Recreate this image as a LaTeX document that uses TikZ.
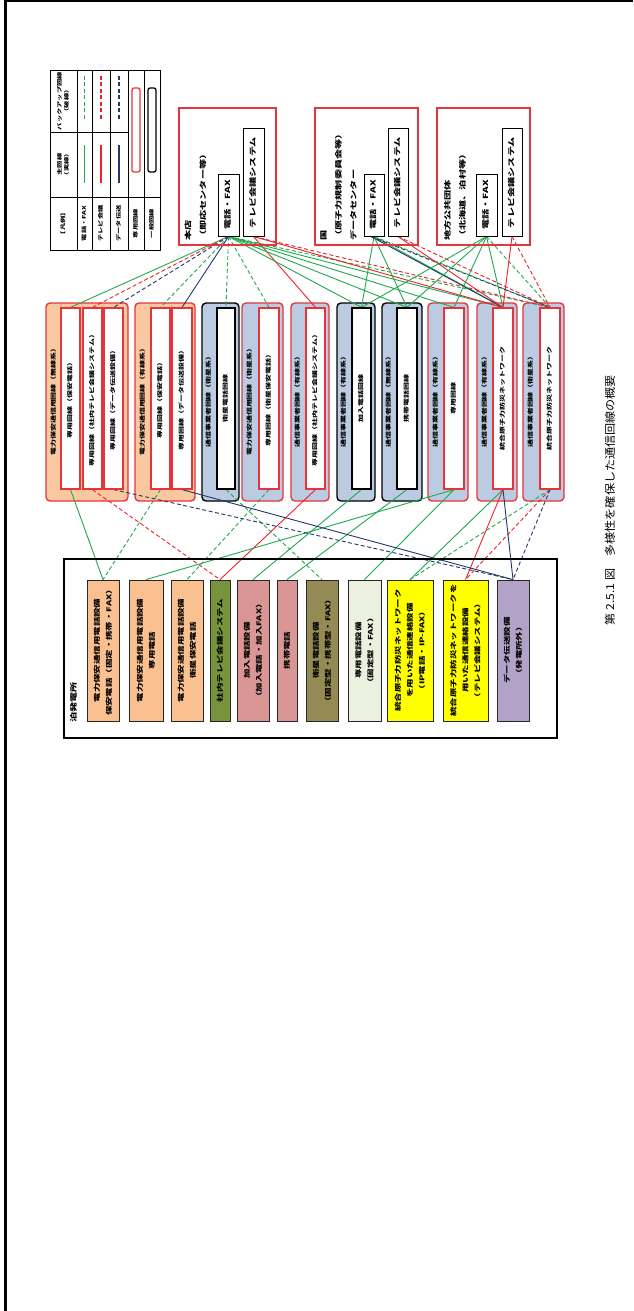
\documentclass[tikz,border=0pt]{standalone}
\usepackage{fontspec}
\setmainfont{Noto Sans CJK JP}
\pgfdeclarelayer{bgl}
\pgfdeclarelayer{grp}
\pgfdeclarelayer{lns}
\pgfsetlayers{bgl,grp,lns,main}
\definecolor{lgreen}{HTML}{1FA84F}
\definecolor{lred}{HTML}{F0202A}
\definecolor{lblue}{HTML}{22386A}
\definecolor{bred}{HTML}{E5353B}
\definecolor{forange}{HTML}{FAC8A0}
\definecolor{fblue}{HTML}{BACBE2}
\definecolor{iorange}{HTML}{FAC090}
\definecolor{igreen}{HTML}{77933C}
\definecolor{ipink}{HTML}{D99694}
\definecolor{iolive}{HTML}{948A54}
\definecolor{ilight}{HTML}{EBF1DE}
\definecolor{iyellow}{HTML}{FFFF00}
\definecolor{ipurple}{HTML}{B3A2C7}
\newcommand{\mysx}{1.45}
\newcommand{\rtx}[2][c]{\rotatebox{90}{\scalebox{\mysx}[1]{\begin{tabular}{@{}#1@{}}#2\end{tabular}}}}
\newcommand{\mybox}[7]{\node[#6, minimum width={(#4-#2)*1pt}, minimum height={(#5-#3)*1pt}] (#1) at ({(#2+#4)/2},{(#3+#5)/2}) {#7};}
\tikzset{
  fa/.style={font=\fontsize{5}{7}\selectfont\bfseries, inner sep=0pt},
  fb/.style={font=\fontsize{5.5}{6.6}\selectfont\bfseries, inner sep=0pt},
  fc/.style={font=\fontsize{6.5}{12}\selectfont\bfseries, inner sep=0pt},
  fd/.style={font=\fontsize{7}{8.4}\selectfont\bfseries, inner sep=0pt},
  fe/.style={font=\fontsize{7}{15}\selectfont\bfseries, inner sep=0pt},
  grpR/.style={draw=bred, line width=1.4pt, rounded corners=4pt, inner sep=0pt},
  grpK/.style={draw=black, line width=1.4pt, rounded corners=4pt, inner sep=0pt},
  inR/.style={fb, draw=bred, line width=1.2pt, fill=white},
  inK/.style={fb, draw=black, line width=1.2pt, fill=white},
  dst/.style={draw=bred, line width=1.2pt, inner sep=0pt},
  dstin/.style={fd, draw=black, line width=1pt, fill=white},
  item/.style={fc, draw=black!85, line width=0.8pt},
  cgs/.style={draw=lgreen, line width=0.9pt},
  cgd/.style={cgs, dash pattern=on 4pt off 2.5pt},
  crs/.style={draw=lred, line width=0.9pt},
  crd/.style={crs, dash pattern=on 4pt off 2.5pt},
  cbs/.style={draw=lblue, line width=0.9pt},
  cbd/.style={cbs, dash pattern=on 4pt off 2.5pt}
}
\begin{document}
\begin{tikzpicture}[x=1pt,y=-1pt]
\useasboundingbox (0,0) rectangle (633,1311);
\begin{pgfonlayer}{bgl}
\fill[white] (0,0) rectangle (633,1311);
\end{pgfonlayer}
% frame
\draw[line width=2pt] (5,1) -- (633,1);
\draw[line width=2.5pt] (5.5,0) -- (5.5,1311);

% legend
\draw[line width=0.8pt] (50,70) rectangle (160,250);
\foreach \x in {77,92,110,128,144} \draw[line width=0.8pt] (\x,70) -- (\x,250);
\draw[line width=0.8pt] (50,197) -- (160,197);
\draw[line width=0.8pt] (50,132) -- (128,132);
\node[fa] (lg0) at (63.5,223.5) {\rtx{【凡例】}};
\node[fa] (lg1) at (63.5,164.5) {\rtx{主回線\\（実線）}};
\node[fa] (lg2) at (63.5,101) {\rtx{バックアップ回線\\（破線）}};
\node[fa] (lg3) at (84.5,223.5) {\rtx{電話・FAX}};
\node[fa] (lg4) at (101,223.5) {\rtx{テレビ会議}};
\node[fa] (lg5) at (119,223.5) {\rtx{データ伝送}};
\node[fa] (lg6) at (136,223.5) {\rtx{専用回線}};
\node[fa] (lg7) at (152,223.5) {\rtx{一般回線}};
\draw[cgs, line width=1.3pt] (84.5,145) -- (84.5,183);
\draw[cgd, line width=1.3pt] (84.5,76) -- (84.5,120);
\draw[crs, line width=1.3pt] (101,145) -- (101,183);
\draw[crd, line width=1.3pt] (101,76) -- (101,120);
\draw[cbs, line width=1.3pt] (119,145) -- (119,183);
\draw[cbd, line width=1.3pt] (119,76) -- (119,120);
\draw[bred, line width=1.3pt, rounded corners=2pt] (132,88) rectangle (140,172);
\draw[black, line width=1.3pt, rounded corners=2pt] (148,88) rectangle (156,172);

% destinations
\mybox{hq}{179}{108}{276}{245}{dst}{}
\node[fe, anchor=south west] (hqt) at (180,241) {\rtx[l]{本店\\（即応センター等）}};
\mybox{hqtel}{218}{174}{239}{236}{dstin}{\rtx{電話・FAX}}
\mybox{hqtv}{243}{129}{264}{236}{dstin}{\rtx{テレビ会議システム}}

\mybox{kn}{315}{108}{418}{245}{dst}{}
\node[fe, anchor=south west] (knt) at (315.5,241) {\rtx[l]{国\\（原子力規制委員会等）\\データセンター}};
\mybox{kntel}{364}{174}{384}{236}{dstin}{\rtx{電話・FAX}}
\mybox{kntv}{388}{129}{408}{236}{dstin}{\rtx{テレビ会議システム}}

\mybox{ch}{437}{108}{530}{245}{dst}{}
\node[fe, anchor=south west] (cht) at (439.5,241) {\rtx[l]{地方公共団体\\（北海道、泊村等）}};
\mybox{chtel}{476}{174}{497}{236}{dstin}{\rtx{電話・FAX}}
\mybox{chtv}{502}{129}{522}{236}{dstin}{\rtx{テレビ会議システム}}

% middle groups
\begin{pgfonlayer}{grp}
\mybox{A}{46}{303}{128}{501}{grpR, fill=forange}{}
\mybox{B}{135}{303}{195}{501}{grpR, fill=forange}{}
\mybox{C}{202}{303}{239}{501}{grpK, fill=fblue}{}
\mybox{D}{242}{303}{283}{501}{grpR, fill=fblue}{}
\mybox{E}{291}{303}{329}{501}{grpR, fill=fblue}{}
\mybox{F}{337}{303}{375}{501}{grpK, fill=fblue}{}
\mybox{G}{382}{303}{422}{501}{grpK, fill=fblue}{}
\mybox{H}{428}{303}{468}{501}{grpR, fill=fblue}{}
\mybox{I}{477}{303}{517}{501}{grpR, fill=fblue}{}
\mybox{J}{523}{303}{564}{501}{grpR, fill=fblue}{}
\end{pgfonlayer}
\node[fb] (Al) at (54,400) {\rtx{電力保安通信用回線（無線系）}};
\node[fb] (Bl) at (143,400) {\rtx{電力保安通信用回線（有線系）}};
\node[fb] (Cl) at (209,400) {\rtx{通信事業者回線（衛星系）}};
\node[fb] (Dl) at (250,400) {\rtx{電力保安通信用回線（衛星系）}};
\node[fb] (El) at (298,400) {\rtx{通信事業者回線（有線系）}};
\node[fb] (Fl) at (344,400) {\rtx{通信事業者回線（有線系）}};
\node[fb] (Gl) at (389,400) {\rtx{通信事業者回線（無線系）}};
\node[fb] (Hl) at (436,400) {\rtx{通信事業者回線（有線系）}};
\node[fb] (Il) at (485,400) {\rtx{通信事業者回線（有線系）}};
\node[fb] (Jl) at (531,400) {\rtx{通信事業者回線（衛星系）}};

\mybox{A1}{61}{308}{80}{489}{inR}{\rtx{専用回線（保安電話）}}
\mybox{A2}{83}{308}{102}{489}{inR}{\rtx{専用回線（社内テレビ会議システム）}}
\mybox{A3}{104}{308}{123}{489}{inR}{\rtx{専用回線（データ伝送設備）}}
\mybox{B1}{151}{308}{170}{489}{inR}{\rtx{専用回線（保安電話）}}
\mybox{B2}{172}{308}{192}{489}{inR}{\rtx{専用回線（データ伝送設備）}}
\mybox{C1}{217}{308}{235}{489}{inK}{\rtx{衛星電話回線}}
\mybox{D1}{259}{308}{279}{489}{inR}{\rtx{専用回線（衛星保安電話）}}
\mybox{E1}{306}{308}{325}{489}{inR}{\rtx{専用回線（社内テレビ会議システム）}}
\mybox{F1}{352}{308}{371}{489}{inK}{\rtx{加入電話回線}}
\mybox{G1}{397}{308}{417}{489}{inK}{\rtx{携帯電話回線}}
\mybox{H1}{444}{308}{464}{489}{inR}{\rtx{専用回線}}
\mybox{I1}{493}{308}{513}{489}{inR}{\rtx{統合原子力防災ネットワーク}}
\mybox{J1}{540}{308}{560}{489}{inR}{\rtx{統合原子力防災ネットワーク}}

% plant
\draw[black, line width=2pt] (64,559) rectangle (557,738);
\node[fd, anchor=south west] (plbl) at (70,723) {\rtx[l]{泊発電所}};
\mybox{p1}{87}{580}{119}{721}{item, fill=iorange}{\rtx{電力保安通信用電話設備\\保安電話（固定・携帯・FAX）}}
\mybox{p2}{129}{580}{163}{721}{item, fill=iorange}{\rtx{電力保安通信用電話設備\\専用電話}}
\mybox{p3}{171}{580}{203}{721}{item, fill=iorange}{\rtx{電力保安通信用電話設備\\衛星保安電話}}
\mybox{p4}{210}{580}{230}{721}{item, fill=igreen}{\rtx{社内テレビ会議システム}}
\mybox{p5}{237}{580}{269}{721}{item, fill=ipink}{\rtx{加入電話設備\\（加入電話・加入FAX）}}
\mybox{p6}{277}{580}{297}{721}{item, fill=ipink}{\rtx{携帯電話}}
\mybox{p7}{306}{580}{338}{721}{item, fill=iolive}{\rtx{衛星電話設備\\（固定型・携帯型・FAX）}}
\mybox{p8}{348}{580}{381}{721}{item, fill=ilight}{\rtx{専用電話設備\\（固定型・FAX）}}
\mybox{p9}{387}{580}{433}{721}{item, fill=iyellow}{\rtx{統合原子力防災ネットワーク\\を用いた通信連絡設備\\（IP電話・IP-FAX）}}
\mybox{p10}{443}{580}{488}{721}{item, fill=iyellow}{\rtx{統合原子力防災ネットワークを\\用いた通信連絡設備\\（テレビ会議システム）}}
\mybox{p11}{497}{580}{529}{721}{item, fill=ipurple}{\rtx{データ伝送設備\\（発電所外）}}

% caption
\node[font=\fontsize{11}{13}\selectfont, inner sep=0pt] (cap) at (610,500) {\rotatebox{90}{\scalebox{1.1}[1]{第 2.5.1 図　多様性を確保した通信回線の概要}}};

% connectors
\begin{pgfonlayer}{lns}
\draw[cgs] (hqtel.south) -- (A1.north);
\draw[crd] (hqtel.south) -- (A2.north);
\draw[cbd] (hqtel.south) -- (A3.north);
\draw[cgd] (hqtel.south) -- (B1.north);
\draw[cbs] (hqtel.south) -- (B2.north);
\draw[cgd] (hqtel.south) -- (C1.north);
\draw[cgd] (hqtel.south) -- (D1.north);
\draw[crs] (hqtv.south) -- (E1.north);
\draw[cgs] (hqtel.south) -- (F1.north);
\draw[cgs] (hqtel.south) -- (G1.north);
\draw[cgs] (hqtel.south) -- (H1.north);
\draw[cgs] (hqtel.south) -- (I1.north);
\draw[cgd] (hqtel.south) -- (J1.north);
\draw[crs] (hqtv.south) -- (I1.north);
\draw[crd] (hqtv.south) -- (J1.north);
\draw[cgs] (kntel.south) -- (F1.north);
\draw[cgs] (kntel.south) -- (G1.north);
\draw[cgs] (kntel.south) -- (I1.north);
\draw[cgd] (kntel.south) -- (J1.north);
\draw[cbs] ([xshift=-3pt]kntel.south) -- (I1.north);
\draw[cbd] ([xshift=-3pt]kntel.south) -- (J1.north);
\draw[crs] (kntv.south) -- (I1.north);
\draw[crd] (kntv.south) -- (J1.north);
\draw[cgs] (chtel.south) -- (F1.north);
\draw[cgs] (chtel.south) -- (G1.north);
\draw[cgs] (chtel.south) -- (H1.north);
\draw[cgs] (chtel.south) -- (I1.north);
\draw[cgd] (chtel.south) -- (J1.north);
\draw[crs] (chtv.south) -- (I1.north);
\draw[crd] (chtv.south) -- (J1.north);
% bottom
\draw[cgs] (A1.south) -- (p1.north);
\draw[cgd] (B1.south) -- (p1.north);
\draw[crd] (A2.south) -- (p4.north);
\draw[crs] (E1.south) -- (p4.north);
\draw[cgs] (H1.south) -- (p2.north);
\draw[cgd] (D1.south) -- (p3.north);
\draw[cgs] (F1.south) -- (p5.north);
\draw[cgs] (G1.south) -- (p6.north);
\draw[cgd] (C1.south) -- (p7.north);
\draw[cgs] (H1.south) -- (p8.north);
\draw[cgs] (I1.south) -- (p9.north);
\draw[cgd] (J1.south) -- (p9.north);
\draw[crs] (I1.south) -- (p10.north);
\draw[crd] (J1.south) -- (p10.north);
\draw[cbs] (I1.south) -- (p11.north);
\draw[cbd] (J1.south) -- (p11.north);
\draw[cbd] (A3.south) -- (p11.north);
\draw[cbs] (B2.south) -- (p11.north);
\end{pgfonlayer}
\end{tikzpicture}
\end{document}
